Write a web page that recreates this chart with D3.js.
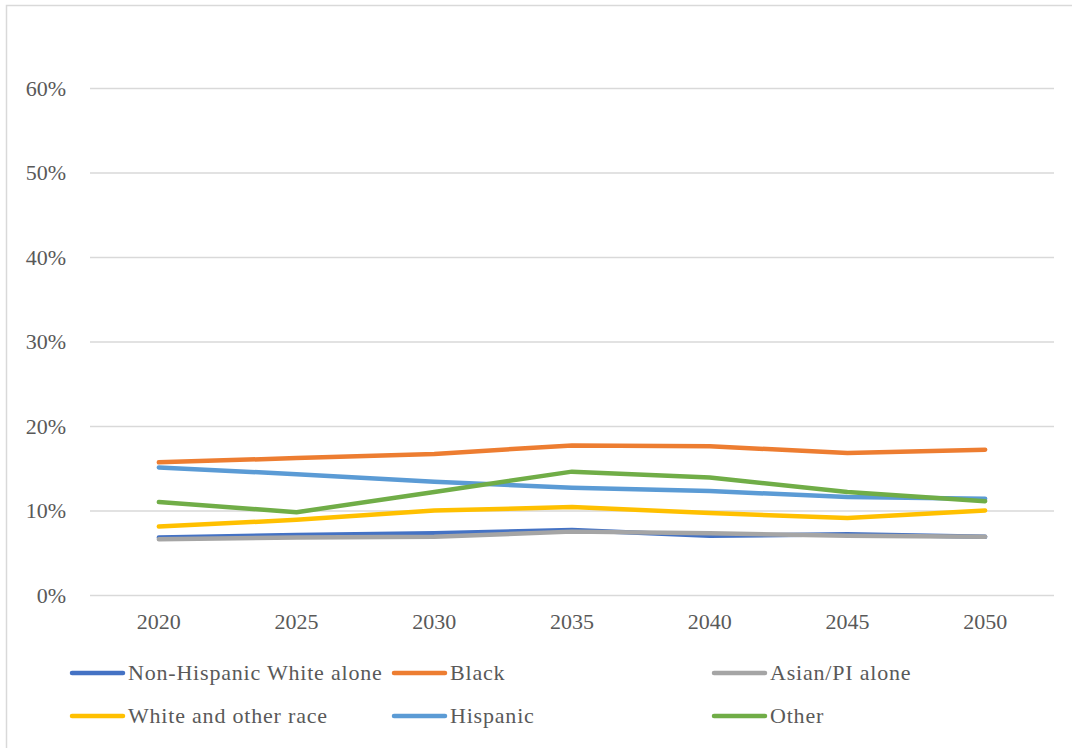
<!DOCTYPE html>
<html>
<head>
<meta charset="utf-8">
<script src="https://cdn.jsdelivr.net/npm/d3@7/dist/d3.min.js"></script>
<style>
  html, body { margin: 0; padding: 0; background: #fff; }
  svg { display: block; }
  svg text { font-family: "Liberation Serif", "Times New Roman", Times, "DejaVu Serif", serif; }
</style>
</head>
<body>
<svg id="chart" width="1072" height="748"></svg>
<script>
const years = ["2020", "2025", "2030", "2035", "2040", "2045", "2050"];
const yTicks = [0, 0.1, 0.2, 0.3, 0.4, 0.5, 0.6];

const nonHispanicWhite = [0.068, 0.071, 0.073, 0.077, 0.070, 0.072, 0.069];
const black            = [0.157, 0.162, 0.167, 0.177, 0.176, 0.168, 0.172];
const asianPI          = [0.066, 0.068, 0.069, 0.075, 0.073, 0.070, 0.069];
const whiteOther       = [0.081, 0.089, 0.100, 0.104, 0.097, 0.091, 0.100];
const hispanic         = [0.151, 0.143, 0.134, 0.127, 0.123, 0.116, 0.114];
const other            = [0.110, 0.098, 0.122, 0.146, 0.139, 0.122, 0.111];

const seriesNames = ["Non-Hispanic White alone", "Black", "Asian/PI alone",
                     "White and other race", "Hispanic", "Other"];
const seriesValues = [nonHispanicWhite, black, asianPI, whiteOther, hispanic, other];
const colors = ["#4472C4", "#ED7D31", "#A5A5A5", "#FFC000", "#5B9BD5", "#70AD47"];

const FONT = "'Liberation Serif', 'Times New Roman', Times, 'DejaVu Serif', serif";
const svg = d3.select("#chart");

// outer frame (top and left edges visible)
svg.append("rect").attr("x", 6.5).attr("y", 5.5).attr("width", 1200).attr("height", 1000)
  .attr("fill", "none").attr("stroke", "#d9d9d9").attr("stroke-width", 1.5);

const plot = { left: 90, right: 1054, top: 88, bottom: 595 };

const x = d3.scaleBand().domain(years).range([plot.left, plot.right]);
const y = d3.scaleLinear().domain([0, 0.6]).range([plot.bottom, plot.top]);

// gridlines
const yAxis = d3.axisLeft(y).tickValues(yTicks).tickFormat(d3.format(".0%"))
  .tickSize(-(plot.right - plot.left)).tickPadding(24);
const gy = svg.append("g").attr("transform", `translate(${plot.left},0)`).call(yAxis)
  .attr("font-family", FONT);
gy.select(".domain").remove();
gy.selectAll(".tick line").attr("stroke", "#d9d9d9").attr("stroke-width", 1.5);
gy.selectAll(".tick text").attr("fill", "#595959").attr("font-size", 22);

// x axis labels
const xAxis = d3.axisBottom(x).tickSize(0).tickPadding(18);
const gx = svg.append("g").attr("transform", `translate(0,${plot.bottom})`).call(xAxis)
  .attr("font-family", FONT);
gx.select(".domain").remove();
gx.selectAll(".tick text").attr("fill", "#595959").attr("font-size", 22);

// lines
const line = d3.line()
  .x((d, i) => x(years[i]) + x.bandwidth() / 2)
  .y(d => y(d));

seriesValues.forEach((vals, k) => {
  svg.append("path").datum(vals)
    .attr("d", line)
    .attr("fill", "none")
    .attr("stroke", colors[k])
    .attr("stroke-width", 4.5)
    .attr("stroke-linecap", "round")
    .attr("stroke-linejoin", "round");
});

// legend
const legendCols = [70, 392, 712];
const legendRows = [673, 716];
seriesNames.forEach((name, k) => {
  const cx = legendCols[k % 3];
  const cy = legendRows[Math.floor(k / 3)];
  const g = svg.append("g");
  g.append("line").attr("x1", cx + 2).attr("x2", cx + 53).attr("y1", cy).attr("y2", cy)
    .attr("stroke", colors[k]).attr("stroke-width", 4.5).attr("stroke-linecap", "round");
  g.append("text").attr("x", cx + 58).attr("y", cy - 1).attr("dy", "0.35em")
    .attr("font-family", FONT)
    .attr("font-size", 22).attr("letter-spacing", 0.8)
    .attr("fill", "#595959").text(name);
});
</script>
</body>
</html>
